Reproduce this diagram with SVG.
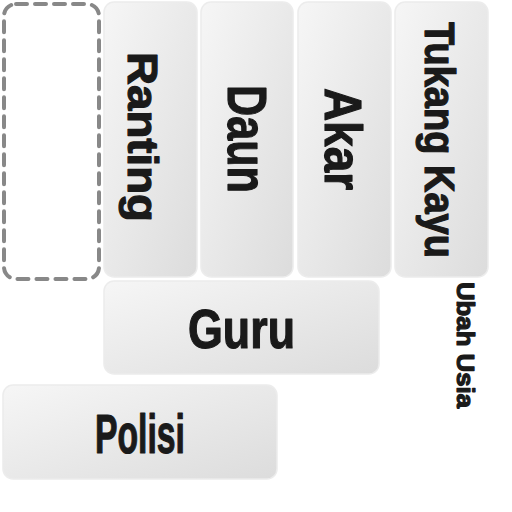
<svg xmlns="http://www.w3.org/2000/svg" width="512" height="512" viewBox="0 0 512 512">
<defs>
<linearGradient id="tileGrad" x1="0" y1="0" x2="1" y2="1">
<stop offset="0" stop-color="#f6f6f6"/>
<stop offset="1" stop-color="#dcdcdc"/>
</linearGradient>
</defs>
<style>
.tile{fill:url(#tileGrad);stroke:#ececec;stroke-width:1.5}
.lbl{font-family:"Liberation Sans",Arial,sans-serif;font-weight:bold;fill:#1a1a1a;stroke:#1a1a1a;stroke-width:1.2;stroke-linejoin:round}
.slot{fill:none;stroke:#888;stroke-width:4;stroke-dasharray:11 8;stroke-linecap:round}
</style>
<rect width="512" height="512" fill="#fff"/>
<g id="slot"><rect class="slot" x="4" y="4" width="95" height="275" rx="12"/></g>
<g id="ranting">
<rect class="tile" x="104" y="2" width="93" height="275" rx="10"/>
<text class="lbl" transform="translate(128,137) rotate(90)" text-anchor="middle" font-size="43" textLength="170" lengthAdjust="spacingAndGlyphs">Ranting</text>
</g>
<g id="daun">
<rect class="tile" x="201" y="2" width="92" height="275" rx="10"/>
<text class="lbl" transform="translate(228,139) rotate(90)" text-anchor="middle" font-size="55" textLength="108" lengthAdjust="spacingAndGlyphs">Daun</text>
</g>
<g id="akar">
<rect class="tile" x="298" y="2" width="93" height="275" rx="10"/>
<text class="lbl" transform="translate(325,139) rotate(90)" text-anchor="middle" font-size="52" textLength="102" lengthAdjust="spacingAndGlyphs">Akar</text>
</g>
<g id="tukang-kayu">
<rect class="tile" x="395" y="2" width="93" height="275" rx="10"/>
<text class="lbl" transform="translate(425,140) rotate(90)" text-anchor="middle" font-size="42" textLength="236" lengthAdjust="spacingAndGlyphs">Tukang Kayu</text>
</g>
<g id="guru">
<rect class="tile" x="104" y="281" width="275" height="93" rx="10"/>
<text class="lbl" x="241.5" y="348" text-anchor="middle" font-size="55" textLength="107" lengthAdjust="spacingAndGlyphs">Guru</text>
</g>
<g id="polisi">
<rect class="tile" x="3" y="385" width="274" height="94" rx="10"/>
<text class="lbl" x="140" y="453" text-anchor="middle" font-size="56" textLength="90" lengthAdjust="spacingAndGlyphs">Polisi</text>
</g>
<g id="ubah-usia">
<text class="lbl" transform="translate(457,345) rotate(90)" text-anchor="middle" font-size="24" textLength="126" lengthAdjust="spacingAndGlyphs">Ubah Usia</text>
</g>
</svg>
